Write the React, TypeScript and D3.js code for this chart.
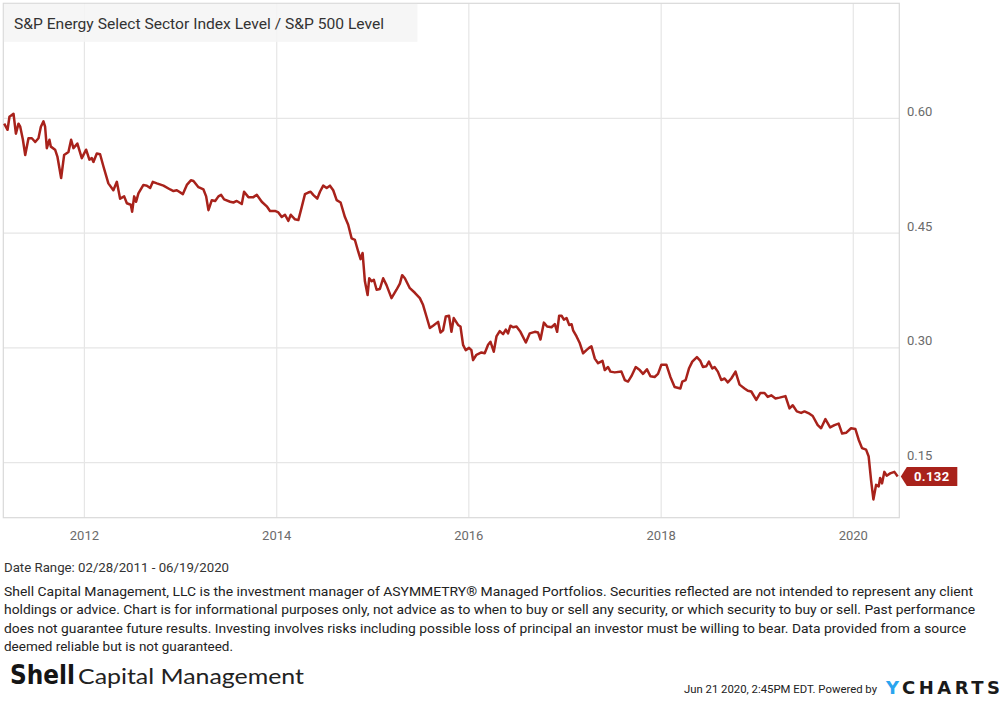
import { scaleLinear, scaleTime, line, curveLinear } from "d3"

// dates as decimal years, values are XLE level / S&P 500 level
const dates = [
  2011.165, 2011.2, 2011.22, 2011.262, 2011.287, 2011.314, 2011.332, 2011.36, 2011.384, 2011.418,
  2011.453, 2011.488, 2011.522, 2011.547, 2011.574, 2011.591, 2011.609, 2011.636, 2011.651, 2011.695,
  2011.719, 2011.758, 2011.789, 2011.834, 2011.862, 2011.886, 2011.927, 2011.973, 2012.018, 2012.052,
  2012.077, 2012.094, 2012.129, 2012.163, 2012.198, 2012.249, 2012.301, 2012.337, 2012.371, 2012.413,
  2012.441, 2012.482, 2012.496, 2012.517, 2012.537, 2012.561, 2012.613, 2012.649, 2012.683, 2012.711,
  2012.753, 2012.821, 2012.891, 2012.925, 2012.96, 2013.023, 2013.064, 2013.106, 2013.133, 2013.185,
  2013.237, 2013.265, 2013.289, 2013.324, 2013.359, 2013.393, 2013.421, 2013.452, 2013.515, 2013.549,
  2013.584, 2013.636, 2013.66, 2013.705, 2013.757, 2013.792, 2013.844, 2013.896, 2013.93, 2013.982,
  2014.017, 2014.052, 2014.086, 2014.121, 2014.146, 2014.19, 2014.225, 2014.26, 2014.294, 2014.328,
  2014.353, 2014.38, 2014.422, 2014.45, 2014.484, 2014.52, 2014.554, 2014.588, 2014.624, 2014.665,
  2014.71, 2014.744, 2014.78, 2014.814, 2014.848, 2014.873, 2014.894, 2014.918, 2014.946, 2014.963,
  2014.988, 2015.011, 2015.04, 2015.074, 2015.108, 2015.143, 2015.195, 2015.247, 2015.282, 2015.306,
  2015.334, 2015.386, 2015.438, 2015.49, 2015.524, 2015.559, 2015.594, 2015.628, 2015.68, 2015.705,
  2015.732, 2015.76, 2015.794, 2015.819, 2015.843, 2015.888, 2015.913, 2015.94, 2015.968, 2016.002,
  2016.027, 2016.044, 2016.079, 2016.131, 2016.165, 2016.2, 2016.225, 2016.259, 2016.287, 2016.321,
  2016.356, 2016.384, 2016.407, 2016.432, 2016.459, 2016.495, 2016.536, 2016.592, 2016.633, 2016.685,
  2016.719, 2016.744, 2016.779, 2016.813, 2016.859, 2016.893, 2016.917, 2016.938, 2016.963, 2016.987,
  2017.015, 2017.042, 2017.067, 2017.083, 2017.119, 2017.153, 2017.187, 2017.222, 2017.249, 2017.274,
  2017.309, 2017.343, 2017.389, 2017.413, 2017.447, 2017.472, 2017.517, 2017.586, 2017.621, 2017.655,
  2017.69, 2017.735, 2017.777, 2017.811, 2017.852, 2017.888, 2017.932, 2017.967, 2018.002, 2018.054,
  2018.096, 2018.14, 2018.2, 2018.22, 2018.255, 2018.289, 2018.324, 2018.372, 2018.408, 2018.435,
  2018.47, 2018.497, 2018.532, 2018.556, 2018.59, 2018.626, 2018.66, 2018.694, 2018.73, 2018.774,
  2018.816, 2018.868, 2018.902, 2018.938, 2018.99, 2019.031, 2019.076, 2019.11, 2019.146, 2019.19,
  2019.232, 2019.294, 2019.336, 2019.37, 2019.412, 2019.457, 2019.492, 2019.544, 2019.578, 2019.63,
  2019.665, 2019.71, 2019.759, 2019.804, 2019.848, 2019.884, 2019.925, 2019.977, 2020.022, 2020.056,
  2020.091, 2020.133, 2020.16, 2020.185, 2020.209, 2020.237, 2020.264, 2020.279, 2020.299, 2020.323,
  2020.347, 2020.383, 2020.427, 2020.461,
]

const ratio = [
  0.593, 0.585, 0.602, 0.606, 0.58, 0.593, 0.589, 0.572, 0.552, 0.574,
  0.574, 0.569, 0.574, 0.589, 0.596, 0.589, 0.561, 0.572, 0.563, 0.559,
  0.55, 0.522, 0.552, 0.556, 0.572, 0.561, 0.567, 0.548, 0.559, 0.546,
  0.548, 0.543, 0.554, 0.553, 0.537, 0.515, 0.506, 0.517, 0.495, 0.498,
  0.489, 0.487, 0.478, 0.498, 0.491, 0.502, 0.513, 0.512, 0.509, 0.517,
  0.515, 0.512, 0.507, 0.505, 0.506, 0.501, 0.513, 0.519, 0.518, 0.51,
  0.507, 0.498, 0.48, 0.493, 0.492, 0.498, 0.5, 0.494, 0.491, 0.49,
  0.492, 0.488, 0.504, 0.497, 0.497, 0.5, 0.491, 0.485, 0.479, 0.479,
  0.477, 0.471, 0.474, 0.466, 0.474, 0.468, 0.467, 0.484, 0.501, 0.503,
  0.504, 0.5, 0.495, 0.504, 0.512, 0.509, 0.512, 0.506, 0.493, 0.49,
  0.471, 0.461, 0.443, 0.441, 0.426, 0.416, 0.424, 0.387, 0.369, 0.391,
  0.387, 0.389, 0.376, 0.377, 0.391, 0.382, 0.365, 0.376, 0.384, 0.395,
  0.391, 0.378, 0.372, 0.365, 0.356, 0.341, 0.326, 0.329, 0.334, 0.32,
  0.323, 0.341, 0.342, 0.321, 0.339, 0.33, 0.328, 0.304, 0.297, 0.3,
  0.297, 0.284, 0.291, 0.294, 0.293, 0.304, 0.308, 0.295, 0.315, 0.322,
  0.318, 0.324, 0.319, 0.329, 0.327, 0.328, 0.321, 0.307, 0.319, 0.321,
  0.32, 0.311, 0.333, 0.328, 0.327, 0.331, 0.321, 0.342, 0.342, 0.337,
  0.339, 0.33, 0.331, 0.323, 0.315, 0.306, 0.293, 0.297, 0.3, 0.302,
  0.286, 0.28, 0.283, 0.271, 0.275, 0.269, 0.268, 0.269, 0.258, 0.256,
  0.263, 0.275, 0.271, 0.266, 0.272, 0.263, 0.262, 0.266, 0.278, 0.278,
  0.262, 0.249, 0.247, 0.256, 0.258, 0.273, 0.282, 0.288, 0.283, 0.275,
  0.276, 0.282, 0.273, 0.275, 0.269, 0.258, 0.26, 0.255, 0.26, 0.269,
  0.252, 0.247, 0.244, 0.243, 0.232, 0.241, 0.241, 0.236, 0.238, 0.234,
  0.235, 0.237, 0.221, 0.225, 0.217, 0.215, 0.217, 0.214, 0.211, 0.199,
  0.195, 0.207, 0.196, 0.199, 0.201, 0.188, 0.189, 0.195, 0.194, 0.18,
  0.169, 0.167, 0.158, 0.127, 0.102, 0.121, 0.119, 0.13, 0.123, 0.138,
  0.133, 0.136, 0.138, 0.132,
]

const yTicks = [0.15, 0.3, 0.45, 0.6]
const yTickLabels = ["0.15", "0.30", "0.45", "0.60"]
const xTicks = [2012, 2014, 2016, 2018, 2020]
const lastLabel = "0.132"

const title = "S&P Energy Select Sector Index Level / S&P 500 Level"
const dateRange = "Date Range: 02/28/2011 - 06/19/2020"
const disclaimer = [
  "Shell Capital Management, LLC is the investment manager of ASYMMETRY® Managed Portfolios. Securities reflected are not intended to represent any client",
  "holdings or advice. Chart is for informational purposes only, not advice as to when to buy or sell any security, or which security to buy or sell. Past performance",
  "does not guarantee future results. Investing involves risks including possible loss of principal an investor must be willing to bear. Data provided from a source",
  "deemed reliable but is not guaranteed.",
]
const disclaimerWidths = [969, 971, 962, 229]
const stamp = "Jun 21 2020, 2:45PM EDT.  Powered by"

const yearToDate = (y: number) => {
  const yr = Math.floor(y)
  const a = new Date(yr, 0, 1).getTime()
  const b = new Date(yr + 1, 0, 1).getTime()
  return new Date(a + (y - yr) * (b - a))
}

const App = () => {
  const width = 1008
  const height = 701
  const plot = { left: 3.3, top: 3.3, right: 899.3, bottom: 517.7 }

  const xScale = scaleTime()
    .domain([new Date(2011, 1, 28), new Date(2020, 5, 19)])
    .range([3.6, 898])
  const yScale = scaleLinear().domain([0.0781, 0.7503]).range([plot.bottom, plot.top])

  const data = dates.map((d, i) => ({ date: yearToDate(d), value: ratio[i] }))
  const path = line<{ date: Date; value: number }>()
    .x(d => xScale(d.date))
    .y(d => yScale(d.value))
    .curve(curveLinear)(data)

  const last = data[data.length - 1]
  const ly = yScale(last.value)
  const lx = plot.right + 1.5

  const font = "Roboto, 'Open Sans', sans-serif"

  return (
    <>
      <style>{`body{margin:0}`}</style>
      <svg width={width} height={height} viewBox={`0 0 ${width} ${height}`} style={{ display: "block" }} fontFamily={font}>
        <rect x={0} y={0} width={width} height={height} fill="#fff" />

        {/* grid */}
        {yTicks.map(t => (
          <line key={t} x1={plot.left} x2={plot.right} y1={yScale(t)} y2={yScale(t)} stroke="#e6e6e6" strokeWidth={1.2} />
        ))}
        {xTicks.map(t => (
          <line key={t} x1={xScale(new Date(t, 0, 1))} x2={xScale(new Date(t, 0, 1))} y1={plot.top} y2={plot.bottom} stroke="#e6e6e6" strokeWidth={1.2} />
        ))}
        <rect x={plot.left} y={plot.top} width={plot.right - plot.left} height={plot.bottom - plot.top} fill="none" stroke="#d9d9d9" strokeWidth={1.2} />

        {/* title box */}
        <rect x={plot.left + 0.6} y={plot.top + 0.6} width={413.5} height={38} fill="#f4f4f4" opacity={0.85} />
        <text x={14} y={29} fontSize={15} fill="#333" textLength={370} lengthAdjust="spacingAndGlyphs">{title}</text>

        {/* series */}
        <path d={path ?? ""} fill="none" stroke="#a8221b" strokeWidth={2.5} strokeLinejoin="round" />

        {/* y labels */}
        {yTicks.map((t, i) => (
          <text key={t} x={907} y={yScale(t) - 2.5} fontSize={13} fill="#6b6b6b">{yTickLabels[i]}</text>
        ))}
        {/* x labels */}
        {xTicks.map(t => (
          <text key={t} x={xScale(new Date(t, 0, 1))} y={540} fontSize={13} fill="#6b6b6b" textAnchor="middle">{t}</text>
        ))}

        {/* last value flag */}
        <path d={`M${lx},${ly} L${lx + 6},${ly - 9.5} L${lx + 56.5},${ly - 9.5} L${lx + 56.5},${ly + 9.5} L${lx + 6},${ly + 9.5} Z`} fill="#a8221b" />
        <text x={lx + 31} y={ly + 4.6} fontSize={13} fontWeight="bold" fill="#fff" textAnchor="middle" letterSpacing={0.4}>{lastLabel}</text>

        {/* notes */}
        <text x={4} y={572} fontSize={13} fill="#333" textLength={225} lengthAdjust="spacingAndGlyphs">{dateRange}</text>
        {disclaimer.map((l, i) => (
          <text key={i} x={4} y={596 + i * 18.4} fontSize={13.5} fill="#222" textLength={disclaimerWidths[i]} lengthAdjust="spacingAndGlyphs">{l}</text>
        ))}

        {/* logo */}
        <text x={10} y={683.5} fontSize={27} fontWeight="bold" fill="#151515" fontFamily="'DejaVu Sans', sans-serif" textLength={65} lengthAdjust="spacingAndGlyphs">Shell</text>
        <text x={78} y={683.5} fontSize={22} fill="#222" fontFamily="'Lato', 'DejaVu Sans', sans-serif" textLength={226} lengthAdjust="spacingAndGlyphs">Capital Management</text>

        {/* footer */}
        <text x={684} y={693} fontSize={11} fill="#222" textLength={193} lengthAdjust="spacingAndGlyphs">{stamp}</text>
        <text x={886} y={694} fontSize={18} fontWeight="bold" fill="#1a1a1a" fontFamily="'DejaVu Sans', sans-serif" textLength={114} lengthAdjust="spacing">
          <tspan fill="#2aa5ef">Y</tspan>CHARTS
        </text>
      </svg>
    </>
  )
}

export default App
